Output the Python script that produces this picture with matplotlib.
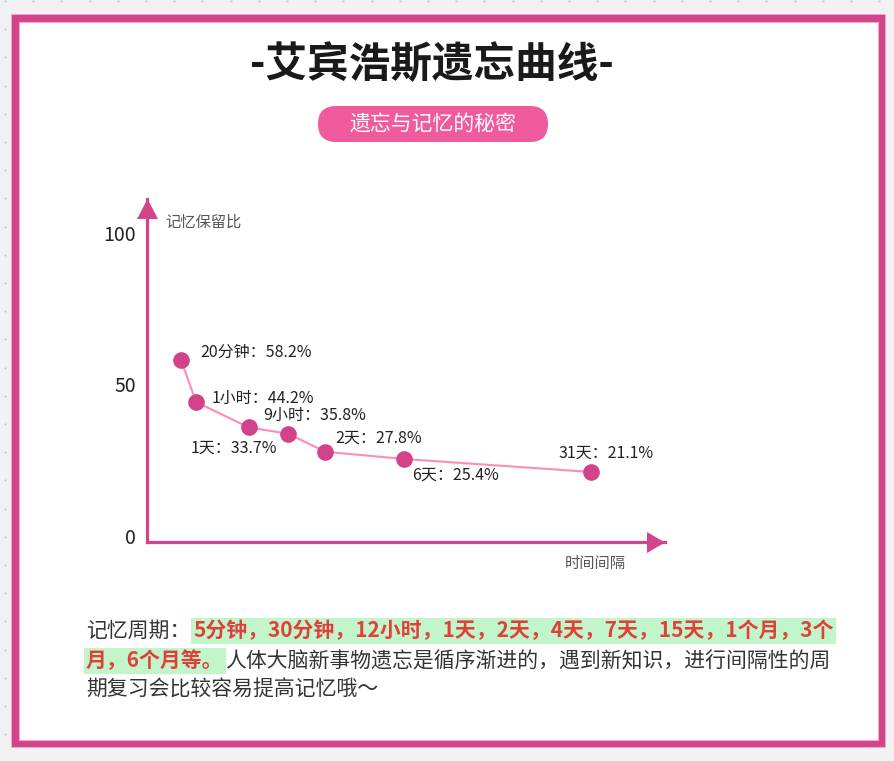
import numpy as np
import matplotlib
matplotlib.use("Agg")
import matplotlib.pyplot as plt
from matplotlib.patches import Rectangle, FancyBboxPatch, Polygon

plt.rcParams["font.family"] = ["Noto Sans CJK SC", "DejaVu Sans"]

W, H = 895, 761
PINK = "#d3448b"
TEXT = "#333333"
RED = "#e0403c"

# data
time_labels = ["20分钟", "1小时", "9小时", "1天", "2天", "6天", "31天"]
hours = [1 / 3, 1, 9, 24, 48, 144, 744]
retention = [58.2, 44.2, 35.8, 33.7, 27.8, 25.4, 21.1]
y_ticks = [0, 50, 100]
cycle_items = ["5分钟", "30分钟", "12小时", "1天", "2天", "4天", "7天",
               "15天", "1个月", "3个月", "6个月"]
title = "-艾宾浩斯遗忘曲线-"
subtitle = "遗忘与记忆的秘密"
y_name = "记忆保留比"
x_name = "时间间隔"
body = "人体大脑新事物遗忘是循序渐进的，遇到新知识，进行间隔性的周期复习会比较容易提高记忆哦～"

# label offsets (points) and alignment for each point label
label_offsets = [(13.7, 5), (11.5, 2.9), (10, 8.6), (-8, -10), (7.2, 10), (5.8, -11.5), (10.8, 13.7)]
label_ha = ["left", "left", "left", "right", "left", "left", "center"]

fig = plt.figure(figsize=(W / 100, H / 100), dpi=100)
fig.patch.set_facecolor("#f2f2f4")

# background layer in pixel coords
bg = fig.add_axes([0, 0, 1, 1])
bg.set_xlim(0, W)
bg.set_ylim(H, 0)
bg.axis("off")

gx, gy = np.meshgrid(np.arange(5, W, 28.2), np.arange(1, H, 28.2))
bg.scatter(gx.ravel(), gy.ravel(), s=2.5, color="#c6c6cc", linewidths=0, zorder=1)

bg.add_patch(Rectangle((11, 14), 875, 734, facecolor="#f4a9cb", edgecolor="none", zorder=2))
bg.add_patch(Rectangle((12, 15), 873, 732, facecolor=PINK, edgecolor="none", zorder=2))
bg.add_patch(Rectangle((19, 22), 859, 718, facecolor="white", edgecolor="#f4a9cb", lw=0.8, zorder=3))

bg.text(432, 65, title, ha="center", va="center", fontsize=30, weight="bold",
        color="#1a1a1a", zorder=5)
bg.add_patch(FancyBboxPatch((318, 106), 230, 36, boxstyle="round,pad=0,rounding_size=18",
                            facecolor="#ef5b9c", edgecolor="none", zorder=4))
bg.text(433, 124, subtitle, ha="center", va="center", fontsize=15, color="white", zorder=5)

# arrow heads
bg.add_patch(Polygon([(137, 219), (158, 219), (147.5, 199)], closed=True,
                     facecolor=PINK, edgecolor="none", zorder=4))
bg.add_patch(Polygon([(647, 532), (647, 553), (665, 542.5)], closed=True,
                     facecolor=PINK, edgecolor="none", zorder=4))
bg.text(165, 222, y_name, ha="left", va="center", fontsize=11, color="#555555", zorder=5)
bg.text(565, 563, x_name, ha="left", va="center", fontsize=11, color="#555555", zorder=5)

# chart
ax = fig.add_axes([147 / W, 1 - 542 / H, (665 - 147) / W, (542 - 199) / H])
ax.set_facecolor("none")
ax.set_xscale("function", functions=(np.cbrt, lambda v: np.power(v, 3)))
ax.set_xlim(0, 1180)
ax.set_ylim(-2, 111.2)
for s in ["top", "right"]:
    ax.spines[s].set_visible(False)
for s in ["left", "bottom"]:
    ax.spines[s].set_color(PINK)
    ax.spines[s].set_linewidth(2.3)
ax.tick_params(axis="x", which="both", bottom=False, labelbottom=False)
ax.set_yticks(y_ticks)
ax.tick_params(axis="y", which="both", length=0, pad=8, labelsize=14, labelcolor="#222222")

ax.plot(hours, retention, color="#ff8cb8", lw=1.5, zorder=2, clip_on=False)
ax.plot(hours, retention, "o", ms=12, color="#d2438b", mec="none", zorder=3, clip_on=False)
for lab, t, v, off, ha in zip(time_labels, hours, retention, label_offsets, label_ha):
    ax.annotate(f"{lab}：{v}%", (t, v), xytext=off, textcoords="offset points",
                ha=ha, va="center", fontsize=11.5, color="#222222")

# bottom paragraph with highlighted part
renderer = fig.canvas.get_renderer()


def put(x, y, s, **kw):
    t = bg.text(x, y, s, ha="left", va="center", fontsize=15, zorder=5, **kw)
    return t.get_window_extent(renderer).x1


highlight = "，".join(cycle_items) + "等。"
cut = highlight.index("3个月") + 2
hl_box = dict(facecolor="#c2f5ca", edgecolor="none", pad=1.5)
cut2 = body.index("期复习")

x = put(86, 631, "记忆周期：", color=TEXT)
put(x + 3, 631, highlight[:cut], color=RED, weight="bold", bbox=hl_box)
x = put(86, 661, highlight[cut:], color=RED, weight="bold", bbox=hl_box)
put(x + 2, 661, body[:cut2], color=TEXT)
put(86, 690, body[cut2:], color=TEXT)

fig.savefig("out.png", dpi=100, facecolor=fig.get_facecolor())
